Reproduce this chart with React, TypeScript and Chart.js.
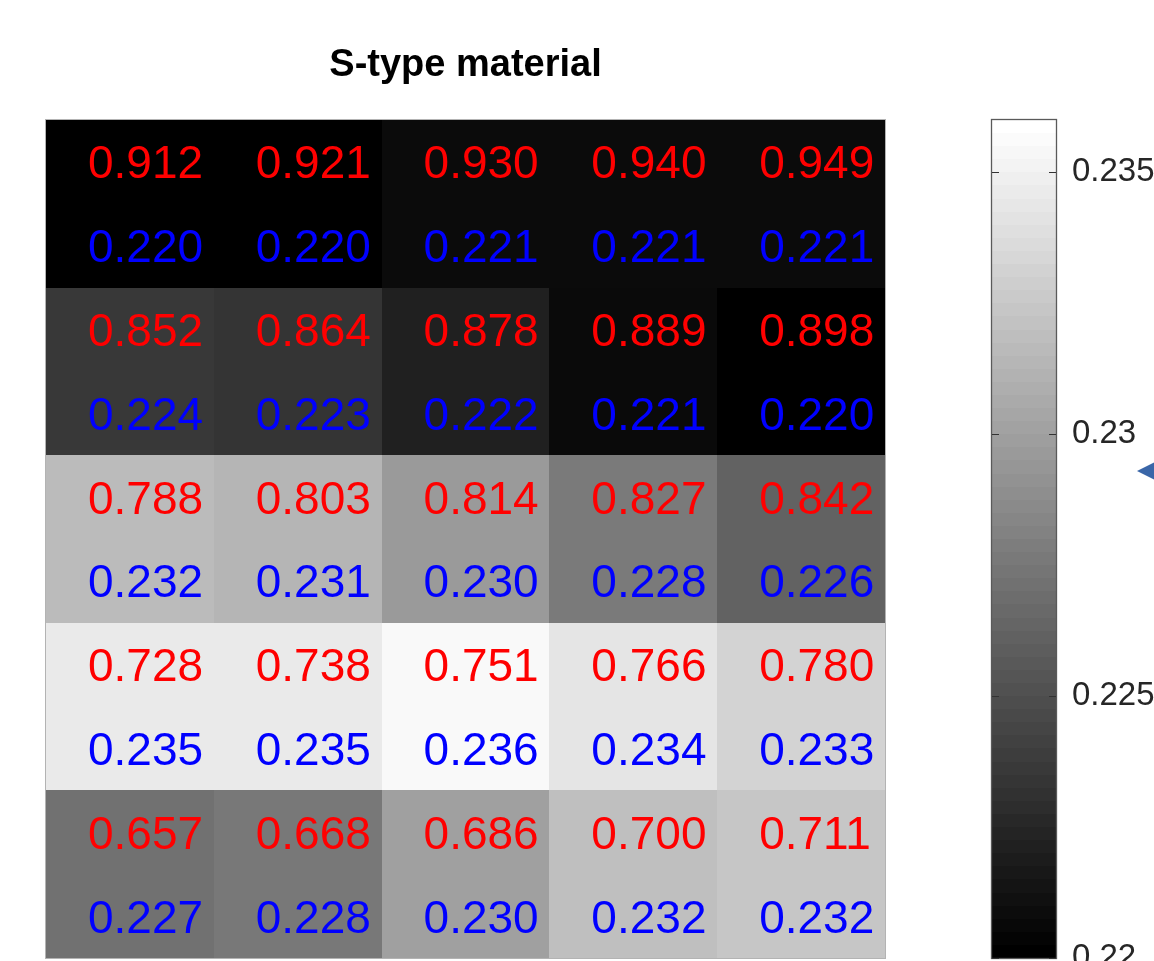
import React, { useEffect, useRef } from 'react';
import { Chart, registerables } from 'chart.js';

Chart.register(...registerables);

const TITLE = 'S-type material';
const COLUMNS = [1, 2, 3, 4, 5];
const ROWS = [1, 2, 3, 4, 5];

// Red labels (shown with 3 decimals)
const RED_VALUES = [
  [0.912, 0.921, 0.930, 0.940, 0.949],
  [0.852, 0.864, 0.878, 0.889, 0.898],
  [0.788, 0.803, 0.814, 0.827, 0.842],
  [0.728, 0.738, 0.751, 0.766, 0.780],
  [0.657, 0.668, 0.686, 0.700, 0.711],
];

// Blue values (colour-mapped; shown rounded to 3 decimals), estimated from cell shades
const BLUE_VALUES = [
  [0.2200, 0.2200, 0.22069, 0.22069, 0.22069],
  [0.22352, 0.22326, 0.2220, 0.22063, 0.2200],
  [0.23173, 0.23136, 0.22966, 0.22766, 0.22615],
  [0.23468, 0.23468, 0.23562, 0.23437, 0.23324],
  [0.22709, 0.22752, 0.23004, 0.23198, 0.23242],
];

const COLOR_MIN = 0.22;
const COLOR_MAX = 0.236;
const COLORBAR_LEVELS = 64;
const COLORBAR_TICKS = [0.22, 0.225, 0.23, 0.235];
const MARKER_VALUE = 0.2293;

const FONT = '"Liberation Sans", Arial, Helvetica, sans-serif';

function grayFor(v: number): string {
  const t = Math.min(1, Math.max(0, (v - COLOR_MIN) / (COLOR_MAX - COLOR_MIN)));
  const g = Math.round(t * 255);
  return `rgb(${g},${g},${g})`;
}

const heatPlugin = {
  id: 'heatmapDraw',
  beforeDatasetsDraw(chart: any) {
    const { ctx, chartArea, scales } = chart;
    const xs = scales.x;
    const ys = scales.y;
    const cb = scales.cb;
    ctx.save();
    ROWS.forEach((r, i) => {
      COLUMNS.forEach((c, j) => {
        const x0 = Math.round(xs.getPixelForValue(c - 0.5));
        const x1 = Math.round(xs.getPixelForValue(c + 0.5));
        const y0 = Math.round(ys.getPixelForValue(r - 0.5));
        const y1 = Math.round(ys.getPixelForValue(r + 0.5));
        ctx.fillStyle = grayFor(BLUE_VALUES[i][j]);
        ctx.fillRect(Math.min(x0, x1), Math.min(y0, y1), Math.abs(x1 - x0), Math.abs(y1 - y0));
      });
    });
    ctx.strokeStyle = '#b3b3b3';
    ctx.lineWidth = 1;
    ctx.strokeRect(
      Math.round(chartArea.left) - 0.5,
      Math.round(chartArea.top) - 0.5,
      Math.round(chartArea.right - chartArea.left) + 1,
      Math.round(chartArea.bottom - chartArea.top) + 1
    );

    // colorbar
    const cbLeft = Math.round(chartArea.right + 107);
    const cbRight = Math.round(chartArea.right + 171);
    const step = (COLOR_MAX - COLOR_MIN) / COLORBAR_LEVELS;
    for (let k = 0; k < COLORBAR_LEVELS; k++) {
      const vLo = COLOR_MIN + k * step;
      const vHi = COLOR_MIN + (k + 1) * step;
      const yLo = Math.round(cb.getPixelForValue(vLo));
      const yHi = Math.round(cb.getPixelForValue(vHi));
      const g = Math.round((k / (COLORBAR_LEVELS - 1)) * 255);
      ctx.fillStyle = `rgb(${g},${g},${g})`;
      ctx.fillRect(cbLeft, yHi, cbRight - cbLeft, yLo - yHi);
    }
    const cbTop = Math.round(cb.getPixelForValue(COLOR_MAX));
    const cbBottom = Math.round(cb.getPixelForValue(COLOR_MIN));
    ctx.strokeStyle = '#5a5a5a';
    ctx.lineWidth = 1.3;
    ctx.strokeRect(cbLeft - 0.5, cbTop - 0.5, cbRight - cbLeft + 1, cbBottom - cbTop + 1);
    ctx.strokeStyle = '#333333';
    ctx.lineWidth = 1;
    COLORBAR_TICKS.forEach((t) => {
      const y = Math.round(cb.getPixelForValue(t)) + 0.5;
      ctx.beginPath();
      ctx.moveTo(cbLeft, y);
      ctx.lineTo(cbLeft + 7, y);
      ctx.moveTo(cbRight, y);
      ctx.lineTo(cbRight - 7, y);
      ctx.stroke();
    });

    // marker arrow pointing at the colorbar
    const my = cb.getPixelForValue(MARKER_VALUE);
    const tipX = chartArea.right + 252;
    ctx.fillStyle = '#3a66a8';
    ctx.beginPath();
    ctx.moveTo(tipX, my);
    ctx.lineTo(tipX + 34, my - 17);
    ctx.lineTo(tipX + 34, my + 17);
    ctx.closePath();
    ctx.fill();
    ctx.restore();
  },
  afterDatasetsDraw(chart: any) {
    const { ctx, chartArea, scales } = chart;
    const xs = scales.x;
    const ys = scales.y;
    ctx.save();
    ctx.font = `46px ${FONT}`;
    ctx.textAlign = 'left';
    ctx.textBaseline = 'alphabetic';
    const baseShift = 46 * 0.358;
    ROWS.forEach((r, i) => {
      COLUMNS.forEach((c, j) => {
        const x = xs.getPixelForValue(c - 0.25);
        ctx.fillStyle = '#ff0000';
        ctx.fillText(RED_VALUES[i][j].toFixed(3), x, ys.getPixelForValue(r - 0.25) + baseShift);
        ctx.fillStyle = '#0000ff';
        ctx.fillText(BLUE_VALUES[i][j].toFixed(3), x, ys.getPixelForValue(r + 0.25) + baseShift);
      });
    });
    ctx.font = `bold 38px ${FONT}`;
    ctx.fillStyle = '#000000';
    ctx.textAlign = 'center';
    ctx.fillText(TITLE, (chartArea.left + chartArea.right) / 2, chartArea.top - 44);
    ctx.restore();
  },
};

export default function App() {
  const canvasRef = useRef<HTMLCanvasElement | null>(null);

  useEffect(() => {
    const canvas = canvasRef.current;
    if (!canvas) return;
    const cells: { x: number; y: number }[] = [];
    ROWS.forEach((r) => COLUMNS.forEach((c) => cells.push({ x: c, y: r })));

    const chart = new Chart(canvas, {
      type: 'scatter',
      data: {
        datasets: [
          {
            data: cells,
            pointRadius: 0,
            pointHoverRadius: 0,
            xAxisID: 'x',
            yAxisID: 'y',
          },
        ],
      },
      options: {
        animation: false,
        responsive: false,
        events: [],
        layout: { padding: { left: 46, top: 120, right: 0, bottom: 3 } },
        plugins: {
          legend: { display: false },
          tooltip: { enabled: false },
          title: { display: false },
        },
        scales: {
          x: { type: 'linear', min: 0.5, max: 5.5, display: false },
          y: { type: 'linear', min: 0.5, max: 5.5, reverse: true, display: false },
          cb: {
            type: 'linear',
            position: 'right',
            min: COLOR_MIN,
            max: COLOR_MAX,
            afterBuildTicks: (s: any) => {
              s.ticks = COLORBAR_TICKS.map((v) => ({ value: v }));
            },
            afterFit: (s: any) => {
              s.width = 269;
              s.paddingTop = 0;
              s.paddingBottom = 0;
            },
            grid: { display: false, drawTicks: true, tickLength: 180 },
            border: { display: false },
            ticks: {
              padding: 7,
              color: '#262626',
              autoSkip: false,
              font: { family: FONT, size: 33 },
              callback: (v: any) => String(v),
            },
          },
        },
      } as any,
      plugins: [heatPlugin],
    });
    return () => chart.destroy();
  }, []);

  return (
    <div style={{ position: 'absolute', left: 0, top: 0, width: 1154, height: 961, background: '#ffffff' }}>
      <canvas ref={canvasRef} width={1154} height={961} style={{ display: 'block' }} />
    </div>
  );
}
